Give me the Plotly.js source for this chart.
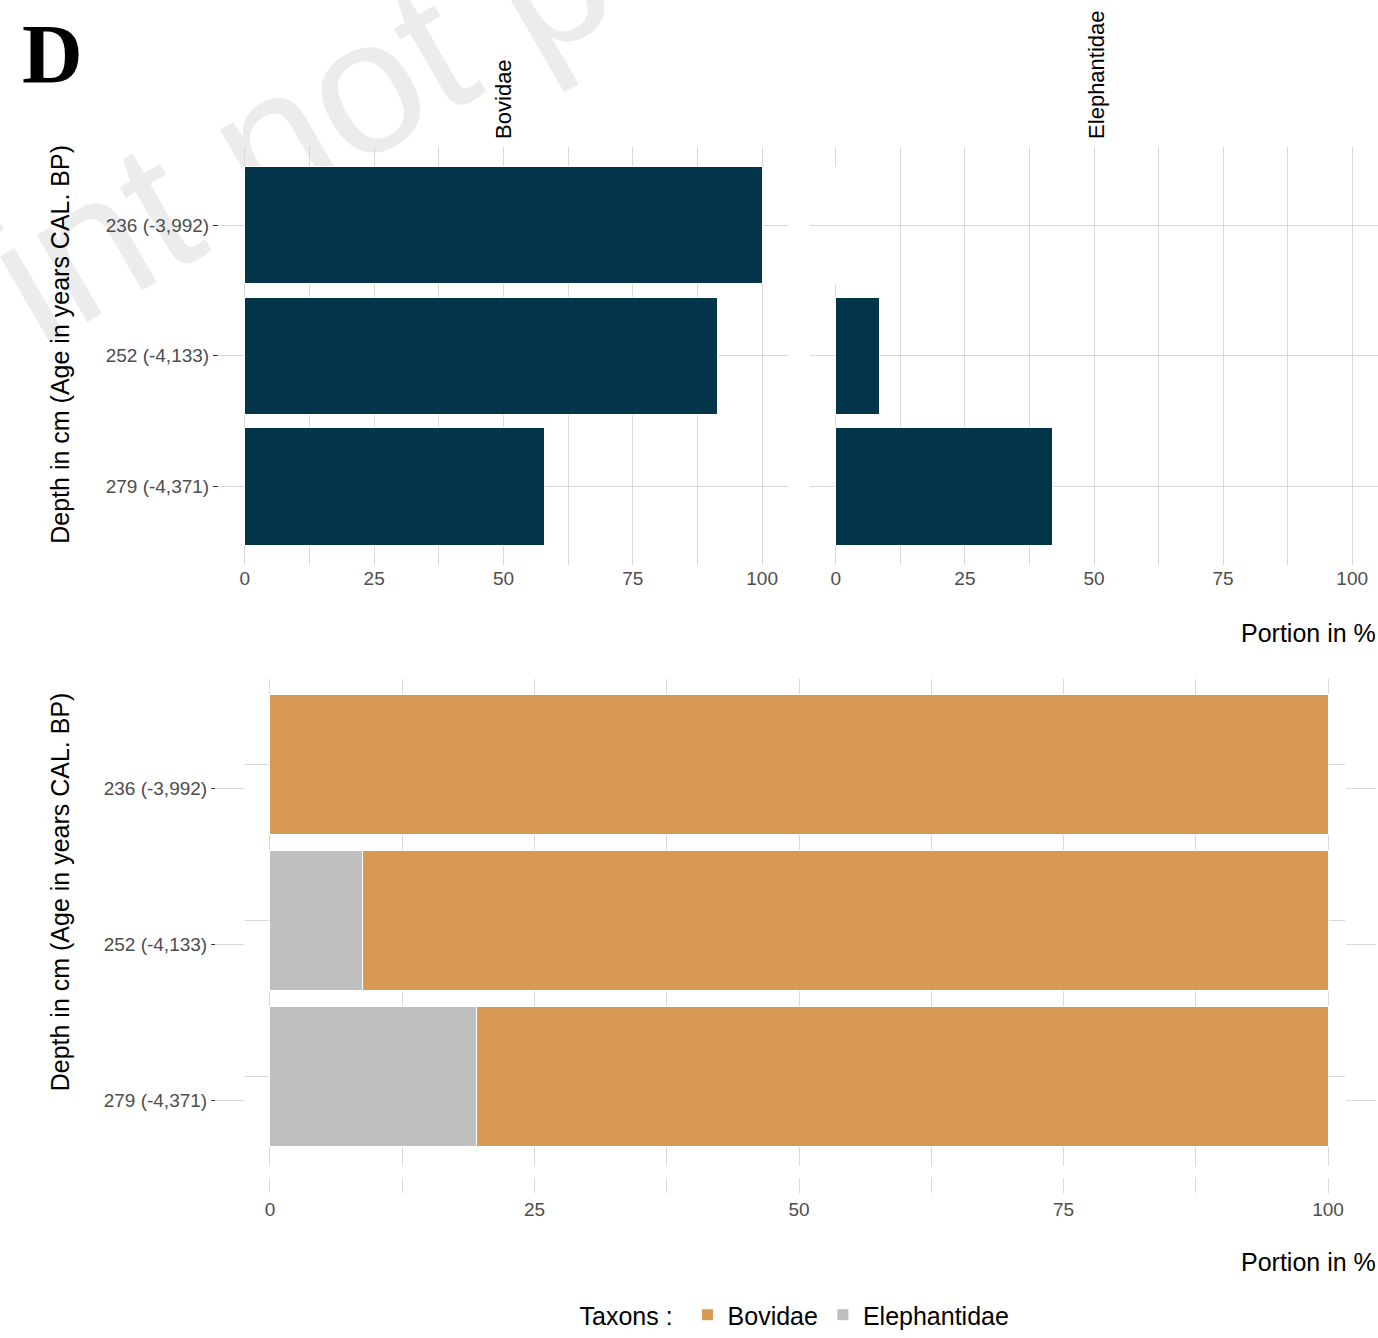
<!DOCTYPE html>
<html>
<head>
<meta charset="utf-8">
<script src="https://cdn.plot.ly/plotly-3.0.1.min.js"></script>
<style>html,body{margin:0;padding:0;background:#fff;}#chart{width:1378px;height:1338px;}</style>
</head>
<body>
<div id="chart"></div>
<script>
// ---- data ----
const depthLabels = ['236 (-3,992)', '252 (-4,133)', '279 (-4,371)'];
const facetNames = ['Bovidae', 'Elephantidae'];
const bovidaePct = [100, 91.3, 58.0];
const elephantidaePct = [0, 8.5, 41.9];
const stackBovidae = [100, 91.3, 80.5];
const stackElephantidae = [0, 8.7, 19.5];
const tickValsMajor = [0, 25, 50, 75, 100];
const tickValsAll = [0, 12.5, 25, 37.5, 50, 62.5, 75, 87.5, 100];
const tickTextAll = ['0', '', '25', '', '50', '', '75', '', '100'];
const yTitle = 'Depth in cm (Age in years CAL. BP)';
const xTitle = 'Portion in %';

// ---- style ----
const W = 1378, H = 1338;
const px = v => v / W;
const py = v => 1 - v / H;
const NAVY = '#02344a', ORANGE = '#d89955', GREY = '#bfbfbf', GRID = '#d9d9d9';
const SANS = 'Liberation Sans, Arial, sans-serif';
const tickFont = {family: SANS, size: 19, color: '#4d4d4d'};
const titleFontH = {family: SANS, size: 25, color: '#000'};
const titleFontV = {family: SANS, size: 25, color: '#000'};

const traces = [
  {type: 'bar', orientation: 'h', x: bovidaePct, y: depthLabels, xaxis: 'x', yaxis: 'y',
   width: 0.9, marker: {color: NAVY, line: {color: '#fff', width: 1}}, showlegend: false, hoverinfo: 'x+y'},
  {type: 'bar', orientation: 'h', x: elephantidaePct, y: depthLabels, xaxis: 'x2', yaxis: 'y2',
   width: 0.9, marker: {color: NAVY, line: {color: '#fff', width: 1}}, showlegend: false, hoverinfo: 'x+y'},
  {type: 'bar', orientation: 'h', name: 'Elephantidae', x: stackElephantidae, y: depthLabels, xaxis: 'x3', yaxis: 'y3',
   width: 0.9, marker: {color: GREY, line: {color: '#fff', width: 1}}, legendrank: 2},
  {type: 'bar', orientation: 'h', name: 'Bovidae', x: stackBovidae, y: depthLabels, xaxis: 'x3', yaxis: 'y3',
   width: 0.9, marker: {color: ORANGE, line: {color: '#fff', width: 1}}, legendrank: 1},
  // invisible helpers carrying the extra (label / tick) axes of the bottom panel
  {type: 'scatter', mode: 'markers', x: stackBovidae, y: depthLabels, xaxis: 'x4', yaxis: 'y3',
   marker: {opacity: 0}, showlegend: false, hoverinfo: 'skip'},
  {type: 'scatter', mode: 'markers', x: stackBovidae, y: depthLabels, xaxis: 'x3', yaxis: 'y4',
   marker: {opacity: 0}, showlegend: false, hoverinfo: 'skip'},
  {type: 'scatter', mode: 'markers', x: stackBovidae, y: depthLabels, xaxis: 'x3', yaxis: 'y5',
   marker: {opacity: 0}, showlegend: false, hoverinfo: 'skip'}
];

const topYDomain = [py(565), py(147)];
const botYDomain = [py(1167), py(680)];
const botXRange = [-2.36, 101.6];
const botYRange = [2.577, -0.548];
const labelShift = 0.154;
const botYRangeShift = [botYRange[0] - labelShift, botYRange[1] - labelShift];

const topX = (dom, anchor) => ({
  domain: dom, anchor: anchor, range: [-5, 105], tickmode: 'array', tickvals: tickValsMajor,
  ticks: '', showgrid: true, gridcolor: GRID, gridwidth: 1, zeroline: false, showline: false,
  minor: {tickmode: 'linear', tick0: 0, dtick: 12.5, showgrid: true, gridcolor: GRID, gridwidth: 1},
  tickfont: tickFont, fixedrange: true
});

const layout = {
  width: W, height: H,
  margin: {l: 0, r: 0, t: 0, b: 0},
  paper_bgcolor: '#fff', plot_bgcolor: '#fff',
  barmode: 'stack',
  font: {family: SANS, color: '#000'},
  xaxis: topX([px(219), px(788)], 'y'),
  xaxis2: topX([px(810), 1], 'y2'),
  yaxis: {domain: topYDomain, anchor: 'x', type: 'category', categoryorder: 'array', categoryarray: depthLabels,
    range: [2.6, -0.6], showgrid: true, gridcolor: GRID, zeroline: false, showline: false,
    ticks: 'outside', ticklen: 5, tickwidth: 1, tickcolor: '#333', tickfont: tickFont, fixedrange: true},
  yaxis2: {domain: topYDomain, anchor: 'x2', type: 'category', categoryorder: 'array', categoryarray: depthLabels,
    range: [2.6, -0.6], showgrid: true, gridcolor: GRID, zeroline: false, showline: false,
    ticks: '', showticklabels: false, fixedrange: true},
  xaxis3: {domain: [px(245), px(1345)], anchor: 'y3', range: botXRange, tickmode: 'linear', tick0: 0, dtick: 12.5,
    showgrid: true, gridcolor: GRID, zeroline: false, showline: false, ticks: '', showticklabels: false, fixedrange: true},
  yaxis3: {domain: botYDomain, anchor: 'x3', type: 'category', categoryorder: 'array', categoryarray: depthLabels,
    range: botYRange, showgrid: true, gridcolor: GRID, zeroline: false, showline: false,
    ticks: '', showticklabels: false, fixedrange: true},
  xaxis4: {overlaying: 'x3', anchor: 'free', position: py(1178), side: 'bottom', range: botXRange,
    tickmode: 'array', tickvals: tickValsAll, ticktext: tickTextAll, ticks: 'outside', ticklen: 15,
    tickcolor: GRID, tickwidth: 1, showgrid: false, zeroline: false, showline: false, tickfont: tickFont, fixedrange: true},
  yaxis4: {overlaying: 'y3', anchor: 'x3', side: 'left', type: 'category', categoryorder: 'array', categoryarray: depthLabels,
    range: botYRangeShift, ticks: 'outside', ticklen: 30, tickcolor: GRID, tickwidth: 1, mirror: 'ticks',
    showticklabels: false, showgrid: false, zeroline: false, showline: false, fixedrange: true},
  yaxis5: {overlaying: 'y3', anchor: 'free', position: px(215), side: 'left', type: 'category', categoryorder: 'array',
    categoryarray: depthLabels, range: botYRangeShift, ticks: 'outside', ticklen: 4, tickcolor: '#333', tickwidth: 1,
    showticklabels: true, tickfont: tickFont, showgrid: false, zeroline: false, showline: false, fixedrange: true},
  legend: {orientation: 'h', x: px(796), xanchor: 'center', y: py(1316), yanchor: 'middle',
    title: {text: 'Taxons : ', font: {family: SANS, size: 25, color: '#000'}, side: 'left'},
    font: {family: SANS, size: 25, color: '#000'}, traceorder: 'normal', itemclick: false, itemdoubleclick: false},
  shapes: [
    {type: 'rect', xref: 'paper', yref: 'paper', x0: px(280), x1: px(300), y0: py(118), y1: py(98),
     layer: 'below', line: {width: 0}, fillcolor: 'rgba(0,0,0,0)',
     label: {text: 'int not p', textangle: -30, textposition: 'middle center',
       font: {family: SANS, size: 190, color: '#ececec'}}}
  ],
  annotations: [
    {text: '<b>D</b>', xref: 'paper', yref: 'paper', x: px(20), y: py(6), xanchor: 'left', yanchor: 'top',
     showarrow: false, font: {family: 'Liberation Serif, Times New Roman, serif', size: 84, color: '#000'}},
    {text: facetNames[0], xref: 'paper', yref: 'paper', x: px(504), y: py(141), xanchor: 'center', yanchor: 'bottom',
     textangle: -90, showarrow: false, font: {family: SANS, size: 22, color: '#000'}},
    {text: facetNames[1], xref: 'paper', yref: 'paper', x: px(1097), y: py(141), xanchor: 'center', yanchor: 'bottom',
     textangle: -90, showarrow: false, font: {family: SANS, size: 22, color: '#000'}},
    {text: yTitle, xref: 'paper', yref: 'paper', x: px(60), y: py(345), xanchor: 'center', yanchor: 'middle',
     textangle: -90, showarrow: false, font: titleFontV},
    {text: yTitle, xref: 'paper', yref: 'paper', x: px(60), y: py(893), xanchor: 'center', yanchor: 'middle',
     textangle: -90, showarrow: false, font: titleFontV},
    {text: xTitle, xref: 'paper', yref: 'paper', x: 1, y: py(633), xanchor: 'right', yanchor: 'middle',
     showarrow: false, font: titleFontH},
    {text: xTitle, xref: 'paper', yref: 'paper', x: 1, y: py(1263), xanchor: 'right', yanchor: 'middle',
     showarrow: false, font: titleFontH}
  ]
};

Plotly.newPlot('chart', traces, layout, {displayModeBar: false, staticPlot: true});
</script>
</body>
</html>
